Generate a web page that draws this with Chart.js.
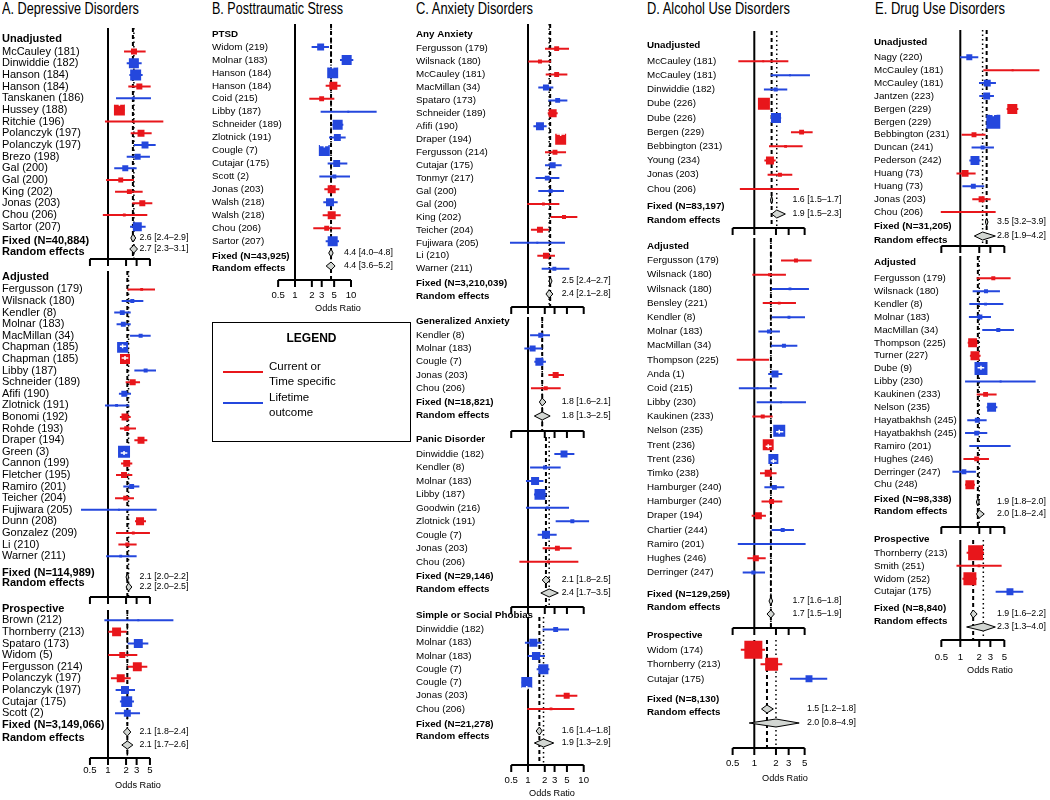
<!DOCTYPE html>
<html>
<head>
<meta charset="utf-8">
<title>Childhood maltreatment forest plots</title>
<script src="https://cdn.jsdelivr.net/npm/chart.js@4.4.1/dist/chart.umd.min.js"></script>
<style>
  body { margin: 0; width: 1050px; height: 800px; position: relative; overflow: hidden; background: #fff;
         font-family: "Liberation Sans", Arial, Helvetica, sans-serif; color: #000; }
  canvas { position: absolute; top: 0; }
  .title { position: absolute; top: 1px; font-size: 16px; line-height: 16px; white-space: nowrap; transform-origin: 0 0; }
  #legend { position: absolute; left: 212px; top: 322px; width: 197px; height: 118px; border: 1px solid #000; }
  #legend div { position: absolute; white-space: nowrap; }
  .lg-title { left: 0; width: 197px; top: 8px; text-align: center; font-weight: bold; font-size: 12px; line-height: 14px; }
  .lg-line { left: 10px; width: 40px; height: 2px; }
  .lg-text { left: 56px; font-size: 11.5px; line-height: 15px; }
</style>
</head>
<body>
<div class="title" style="left:2px" data-w="137">A. Depressive Disorders</div>
<div class="title" style="left:212px" data-w="131">B. Posttraumatic Stress</div>
<div class="title" style="left:416px" data-w="117">C. Anxiety Disorders</div>
<div class="title" style="left:647px" data-w="143">D. Alcohol Use Disorders</div>
<div class="title" style="left:875px" data-w="130">E. Drug Use Disorders</div>

<canvas id="panelA"></canvas>
<canvas id="panelB"></canvas>
<canvas id="panelC"></canvas>
<canvas id="panelD"></canvas>
<canvas id="panelE"></canvas>

<div id="legend">
  <div class="lg-title">LEGEND</div>
  <div class="lg-line" style="top:48px;background:#e8161b"></div>
  <div class="lg-text" style="top:36px">Current or<br>Time specific</div>
  <div class="lg-line" style="top:79px;background:#2447dd"></div>
  <div class="lg-text" style="top:67px">Lifetime<br>outcome</div>
</div>

<script>
// outcome type per study: C = current or time specific, L = lifetime outcome
// wt = relative study weight (box area)

// ---- A. Depressive disorders ----
const depUnadjStudy = ['McCauley (181)', 'Dinwiddie (182)', 'Hanson (184)', 'Hanson (184)', 'Tanskanen (186)', 'Hussey (188)',
  'Ritchie (196)', 'Polanczyk (197)', 'Polanczyk (197)', 'Brezo (198)', 'Gal (200)', 'Gal (200)', 'King (202)', 'Jonas (203)',
  'Chou (206)', 'Sartor (207)'];
const depUnadjOR = [2.71, 2.70, 2.89, 3.33, 2.64, 1.55, 2.70, 3.55, 4.14, 3.12, 1.94, 1.63, 2.27, 3.73, 1.87, 3.08];
const depUnadjLo = [1.85, 2.05, 2.27, 2.18, 1.36, 1.27, 0.89, 2.39, 2.71, 2.05, 1.27, 0.93, 1.31, 2.54, 0.82, 2.33];
const depUnadjHi = [4.24, 3.64, 3.78, 5.14, 5.20, 1.87, 8.36, 5.34, 6.23, 5.00, 3.00, 2.71, 3.78, 5.48, 4.52, 4.24];
const depUnadjWt = [9, 25, 30, 9, 2, 30, 1, 12, 12, 9, 9, 6, 6, 9, 2, 20];
const depUnadjType = 'CLLCLCCCLLLCCCCL';
const depUnadjFixed = [2.6, 2.4, 2.9];
const depUnadjRandom = [2.7, 2.3, 3.1];
const depUnadjN = '40,884';
const depUnadjPrinted = ['2.6 [2.4–2.9]', '2.7 [2.3–3.1]'];

const depAdjStudy = ['Fergusson (179)', 'Wilsnack (180)', 'Kendler (8)', 'Molnar (183)', 'MacMillan (34)', 'Chapman (185)',
  'Chapman (185)', 'Libby (187)', 'Schneider (189)', 'Afifi (190)', 'Zlotnick (191)', 'Bonomi (192)', 'Rohde (193)',
  'Draper (194)', 'Green (3)', 'Cannon (199)', 'Fletcher (195)', 'Ramiro (201)', 'Teicher (204)', 'Fujiwara (205)',
  'Dunn (208)', 'Gonzalez (209)', 'Li (210)', 'Warner (211)'];
const depAdjOR = [3.64, 2.54, 1.73, 1.80, 3.50, 1.75, 1.92, 4.24, 2.58, 1.87, 1.39, 1.92, 2.05, 3.55, 1.85, 2.05, 1.85, 2.48,
  1.97, 1.52, 3.42, 2.64, 2.10, 1.63];
const depAdjLo = [2.10, 1.69, 1.27, 1.39, 2.33, 1.58, 1.69, 2.75, 1.97, 1.52, 0.89, 1.58, 1.58, 2.75, 1.63, 1.65, 1.36, 1.80,
  1.31, 0.355, 2.82, 1.36, 1.49, 0.93];
const depAdjHi = [6.07, 3.88, 2.39, 2.39, 5.14, 2.00, 2.18, 6.31, 3.42, 2.42, 2.27, 2.39, 2.93, 4.52, 2.10, 2.54, 2.54, 3.33,
  2.71, 6.47, 4.30, 5.00, 3.00, 3.00];
const depAdjWt = [2, 4, 6, 6, 4, 30, 25, 4, 9, 9, 2, 12, 6, 12, 36, 12, 9, 6, 6, 1, 16, 2, 4, 2];
const depAdjType = 'CLLLLLCLCLLCCCLCCLCLCCCL';
const depAdjFixed = [2.1, 2.0, 2.2];
const depAdjRandom = [2.2, 2.0, 2.5];
const depAdjN = '114,989';
const depAdjPrinted = ['2.1 [2.0–2.2]', '2.2 [2.0–2.5]'];

const depProStudy = ['Brown (212)', 'Thornberry (213)', 'Spataro (173)', 'Widom (5)', 'Fergusson (214)', 'Polanczyk (197)',
  'Polanczyk (197)', 'Cutajar (175)', 'Scott (2)'];
const depProOR = [3.20, 1.39, 3.20, 1.73, 3.08, 1.63, 1.92, 2.05, 2.10];
const depProLo = [0.87, 1.01, 2.13, 1.01, 2.13, 1.12, 1.34, 1.58, 1.31];
const depProHi = [12.3, 2.05, 4.70, 3.08, 4.52, 2.39, 2.82, 2.71, 3.42];
const depProWt = [1, 20, 20, 9, 20, 16, 16, 30, 12];
const depProType = 'LCLCCCLLL';
const depProFixed = [2.1, 1.8, 2.4];
const depProRandom = [2.1, 1.7, 2.6];
const depProN = '3,149,066';
const depProPrinted = ['2.1 [1.8–2.4]', '2.1 [1.7–2.6]'];

// ---- B. Posttraumatic stress ----
const ptsdStudy = ['Widom (219)', 'Molnar (183)', 'Hanson (184)', 'Hanson (184)', 'Coid (215)', 'Libby (187)',
  'Schneider (189)', 'Zlotnick (191)', 'Cougle (7)', 'Cutajar (175)', 'Scott (2)', 'Jonas (203)', 'Walsh (218)',
  'Walsh (218)', 'Chou (206)', 'Sartor (207)'];
const ptsdOR = [2.87, 8.37, 4.71, 4.84, 2.99, 8.96, 5.78, 5.70, 3.34, 5.55, 5.04, 4.52, 4.22, 4.52, 3.68, 4.71];
const ptsdLo = [1.98, 6.36, 4.05, 3.53, 1.80, 2.87, 4.64, 4.05, 2.79, 3.83, 2.72, 3.34, 3.20, 3.12, 2.12, 3.53];
const ptsdHi = [4.05, 11.0, 5.55, 6.54, 5.04, 28.7, 7.30, 8.03, 3.94, 8.60, 9.60, 6.19, 5.78, 6.54, 6.54, 6.10];
const ptsdWt = [12, 25, 30, 16, 6, 1, 25, 12, 30, 12, 4, 16, 16, 16, 6, 25];
const ptsdType = 'LLLCCLLLLLLCLCCL';
const ptsdFixed = [4.4, 4.0, 4.8];
const ptsdRandom = [4.4, 3.6, 5.2];
const ptsdN = '43,925';
const ptsdPrinted = ['4.4 [4.0–4.8]', '4.4 [3.6–5.2]'];

// ---- C. Anxiety disorders ----
const anyStudy = ['Fergusson (179)', 'Wilsnack (180)', 'McCauley (181)', 'MacMillan (34)', 'Spataro (173)', 'Schneider (189)',
  'Afifi (190)', 'Draper (194)', 'Fergusson (214)', 'Cutajar (175)', 'Tonmyr (217)', 'Gal (200)', 'Gal (200)', 'King (202)',
  'Teicher (204)', 'Fujiwara (205)', 'Li (210)', 'Warner (211)'];
const anyOR = [3.27, 1.64, 3.27, 2.10, 3.41, 2.77, 1.64, 3.86, 3.05, 2.77, 2.22, 2.55, 1.89, 4.43, 1.64, 1.47, 2.10, 2.97];
const anyLo = [2.02, 1.01, 2.08, 1.53, 2.32, 2.26, 1.25, 3.27, 2.02, 2.02, 1.37, 1.53, 0.97, 2.55, 1.13, 0.475, 1.47, 1.76];
const anyHi = [5.45, 2.59, 5.09, 2.85, 5.09, 3.41, 2.16, 4.62, 4.82, 4.02, 3.66, 4.43, 3.66, 7.69, 2.38, 4.62, 3.05, 5.53];
const anyWt = [6, 4, 6, 9, 6, 16, 16, 30, 6, 9, 6, 4, 2, 4, 9, 1, 9, 4];
const anyType = 'CCCLLCLCCLLLCCCLCL';
const anyFixed = [2.5, 2.4, 2.7];
const anyRandom = [2.4, 2.1, 2.8];
const anyN = '3,210,039';
const anyPrinted = ['2.5 [2.4–2.7]', '2.4 [2.1–2.8]'];

const gadStudy = ['Kendler (8)', 'Molnar (183)', 'Cougle (7)', 'Jonas (203)', 'Chou (206)'];
const gadOR = [1.69, 1.21, 1.60, 3.14, 2.08];
const gadLo = [1.09, 0.86, 1.30, 2.32, 1.13];
const gadHi = [2.48, 1.81, 2.10, 4.43, 3.86];
const gadWt = [6, 9, 16, 9, 4];
const gadType = 'LLLCC';
const gadFixed = [1.8, 1.6, 2.1];
const gadRandom = [1.8, 1.3, 2.5];
const gadN = '18,821';
const gadPrinted = ['1.8 [1.6–2.1]', '1.8 [1.3–2.5]'];

const panicStudy = ['Dinwiddie (182)', 'Kendler (8)', 'Molnar (183)', 'Libby (187)', 'Goodwin (216)', 'Zlotnick (191)',
  'Cougle (7)', 'Jonas (203)', 'Chou (206)'];
const panicOR = [4.43, 2.02, 1.34, 1.64, 2.22, 6.25, 2.10, 3.37, 2.32];
const panicLo = [2.97, 1.09, 0.92, 1.28, 0.92, 3.14, 1.49, 1.83, 0.70];
const panicHi = [6.80, 3.86, 1.89, 2.16, 5.45, 12.5, 3.27, 6.08, 8.02];
const panicWt = [12, 4, 16, 30, 2, 4, 16, 6, 2];
const panicType = 'LLLLLLLCC';
const panicFixed = [2.1, 1.8, 2.5];
const panicRandom = [2.4, 1.7, 3.5];
const panicN = '29,146';
const panicPrinted = ['2.1 [1.8–2.5]', '2.4 [1.7–3.5]'];

const phobStudy = ['Dinwiddie (182)', 'Molnar (183)', 'Molnar (183)', 'Cougle (7)', 'Cougle (7)', 'Jonas (203)', 'Chou (206)'];
const phobOR = [3.14, 1.25, 1.39, 1.89, 0.95, 4.95, 2.59];
const phobLo = [1.83, 0.88, 0.99, 1.43, 0.77, 3.14, 0.97];
const phobHi = [5.45, 1.76, 2.02, 2.42, 1.16, 7.69, 6.80];
const phobWt = [6, 16, 16, 25, 30, 9, 2];
const phobType = 'LLLLLCC';
const phobFixed = [1.6, 1.4, 1.8];
const phobRandom = [1.9, 1.3, 2.9];
const phobN = '21,278';
const phobPrinted = ['1.6 [1.4–1.8]', '1.9 [1.3–2.9]'];

// ---- D. Alcohol use disorders ----
const alcUnadjStudy = ['McCauley (181)', 'McCauley (181)', 'Dinwiddie (182)', 'Dube (226)', 'Dube (226)', 'Bergen (229)',
  'Bebbington (231)', 'Young (234)', 'Jonas (203)', 'Chou (206)'];
const alcUnadjOR = [1.33, 3.13, 1.98, 1.36, 2.00, 4.54, 2.72, 1.65, 2.27, 1.62];
const alcUnadjLo = [0.60, 1.69, 1.36, 1.22, 1.70, 3.23, 1.60, 1.38, 1.53, 0.63];
const alcUnadjHi = [2.97, 5.93, 2.87, 1.53, 2.36, 6.46, 4.69, 1.98, 3.37, 4.17];
const alcUnadjWt = [1, 1, 4, 36, 25, 6, 2, 16, 4, 1];
const alcUnadjType = 'CLLCLCCCCC';
const alcUnadjFixed = [1.74, 1.68, 1.80];
const alcUnadjRandom = [2.05, 1.74, 2.70];
const alcUnadjN = '83,197';
const alcUnadjPrinted = ['1.6 [1.5–1.7]', '1.9 [1.5–2.3]'];

const alcAdjStudy = ['Fergusson (179)', 'Wilsnack (180)', 'Wilsnack (180)', 'Bensley (221)', 'Kendler (8)', 'Molnar (183)',
  'MacMillan (34)', 'Thompson (225)', 'Anda (1)', 'Coid (215)', 'Libby (230)', 'Kaukinen (233)', 'Nelson (235)',
  'Trent (236)', 'Trent (236)', 'Timko (238)', 'Hamburger (240)', 'Hamburger (240)', 'Draper (194)', 'Chartier (244)',
  'Ramiro (201)', 'Hughes (246)', 'Derringer (247)'];
const alcAdjOR = [3.79, 1.62, 3.13, 2.22, 3.03, 1.60, 2.58, 0.97, 1.94, 1.11, 2.35, 1.31, 2.22, 1.56, 1.84, 1.56, 1.90, 1.74,
  1.14, 2.48, 1.74, 1.05, 0.97];
const alcAdjLo = [2.35, 0.94, 1.74, 1.31, 1.74, 1.14, 1.70, 0.57, 1.56, 0.61, 1.08, 0.94, 2.00, 1.44, 1.69, 1.20, 1.38, 1.26,
  0.92, 1.74, 0.59, 0.80, 0.69];
const alcAdjHi = [6.25, 2.75, 5.74, 3.79, 5.06, 2.27, 3.96, 1.60, 2.45, 2.04, 5.22, 1.80, 2.53, 1.74, 2.04, 2.04, 2.61, 2.45,
  1.45, 3.56, 5.16, 1.44, 1.41];
const alcAdjWt = [4, 2, 2, 2, 2, 4, 4, 2, 12, 1, 1, 4, 36, 30, 25, 12, 6, 6, 12, 4, 1, 9, 4];
const alcAdjType = 'CCLCLLLCLLLCLCLCLCCLLCL';
const alcAdjFixed = [1.7, 1.6, 1.8];
const alcAdjRandom = [1.7, 1.5, 1.9];
const alcAdjN = '129,259';
const alcAdjPrinted = ['1.7 [1.6–1.8]', '1.7 [1.5–1.9]'];

const alcProStudy = ['Widom (174)', 'Thornberry (213)', 'Cutajar (175)'];
const alcProOR = [0.97, 1.74, 5.75];
const alcProLo = [0.65, 1.22, 3.13];
const alcProHi = [1.41, 2.45, 10.3];
const alcProWt = [81, 42, 12];
const alcProType = 'CCL';
const alcProFixed = [1.5, 1.26, 1.84];
const alcProRandom = [2.0, 0.85, 4.2];
const alcProN = '8,130';
const alcProPrinted = ['1.5 [1.2–1.8]', '2.0 [0.8–4.9]'];

// ---- E. Drug use disorders ----
const drugUnadjStudy = ['Nagy (220)', 'McCauley (181)', 'McCauley (181)', 'Jantzen (223)', 'Bergen (229)', 'Bergen (229)',
  'Bebbington (231)', 'Duncan (241)', 'Pederson (242)', 'Huang (73)', 'Huang (73)', 'Jonas (203)', 'Chou (206)'];
const drugUnadjOR = [1.39, 6.77, 2.68, 2.62, 6.69, 3.34, 1.65, 2.26, 1.71, 1.19, 1.61, 2.18, 1.34];
const drugUnadjLo = [0.99, 2.32, 1.98, 2.00, 5.44, 2.96, 1.05, 1.51, 1.39, 0.87, 1.08, 1.55, 0.49];
const drugUnadjHi = [1.93, 20.3, 3.68, 3.42, 8.33, 3.77, 2.52, 3.42, 2.10, 1.75, 2.40, 3.03, 3.64];
const drugUnadjWt = [9, 1, 12, 12, 25, 49, 6, 4, 20, 12, 6, 9, 1];
const drugUnadjType = 'LCLLCLCLLCLCC';
const drugUnadjFixed = [2.62, 2.50, 2.75];
const drugUnadjRandom = [2.26, 1.67, 3.60];
const drugUnadjN = '31,205';
const drugUnadjPrinted = ['3.5 [3.2–3.9]', '2.8 [1.9–4.2]'];

const drugAdjStudy = ['Fergusson (179)', 'Wilsnack (180)', 'Kendler (8)', 'Molnar (183)', 'MacMillan (34)', 'Thompson (225)',
  'Turner (227)', 'Dube (9)', 'Libby (230)', 'Kaukinen (233)', 'Nelson (235)', 'Hayatbakhsh (245)', 'Hayatbakhsh (245)',
  'Ramiro (201)', 'Hughes (246)', 'Derringer (247)', 'Chu (248)'];
const drugAdjOR = [3.34, 2.56, 2.52, 2.05, 4.01, 1.57, 1.71, 2.13, 4.37, 2.52, 3.14, 1.86, 1.82, 3.03, 1.82, 1.14, 1.42];
const drugAdjLo = [1.82, 1.57, 1.39, 1.37, 2.23, 1.31, 1.42, 1.88, 1.19, 1.82, 2.62, 1.29, 1.19, 1.39, 1.12, 0.75, 1.19];
const drugAdjHi = [6.29, 4.26, 4.82, 3.07, 7.11, 1.88, 2.10, 2.40, 15.7, 3.77, 3.87, 2.62, 2.68, 6.29, 2.85, 1.77, 1.71];
const drugAdjWt = [4, 4, 2, 6, 4, 20, 20, 42, 1, 6, 20, 6, 6, 1, 6, 6, 20];
const drugAdjType = 'CLLLLCCLLCLLLLCLC';
const drugAdjFixed = [1.9, 1.8, 2.0];
const drugAdjRandom = [2.0, 1.8, 2.4];
const drugAdjN = '98,338';
const drugAdjPrinted = ['1.9 [1.8–2.0]', '2.0 [1.8–2.4]'];

const drugProStudy = ['Thornberry (213)', 'Smith (251)', 'Widom (252)', 'Cutajar (175)'];
const drugProOR = [1.75, 1.98, 1.42, 6.14];
const drugProLo = [1.26, 0.87, 1.08, 3.64];
const drugProHi = [2.38, 4.53, 1.82, 10.0];
const drugProWt = [56, 2, 42, 12];
const drugProType = 'CCCL';
const drugProFixed = [1.6, 1.45, 1.85];
const drugProRandom = [2.32, 1.26, 3.6];
const drugProN = '8,840';
const drugProPrinted = ['1.9 [1.6–2.2]', '2.3 [1.3–4.0]'];

const ticksShort = [0.5, 1, 2, 3, 5];
const ticksLong = [0.5, 1, 2, 3, 5, 10];

// ------------------------------------------------------------------
const RED = '#e8161b';
const BLUE = '#2447dd';
const FAMILY = '"Liberation Sans", Arial, Helvetica, sans-serif';
Chart.defaults.font.family = FAMILY;
Chart.defaults.color = '#000';

function sec(name, study, or, lo, hi, wt, type, fixed, random, n, printed) {
  return {name, study, or, lo, hi, wt, type: type.split(''), fixed, random, n, printed};
}
function boxSide(w) { return Math.max(2, 2.0 * Math.sqrt(w)); }

function makeForest(lay, sections) {
  return {
    id: 'forest',
    beforeDatasetsDraw(chart) {
      const ctx = chart.ctx, x = chart.scales.x;
      ctx.save();
      ctx.strokeStyle = '#000';
      sections.forEach((s, k) => {
        const L = lay.sec[k];
        const top = L.header - 3, bot = L.axis;
        [[1, [], 2], [s.fixed[0], [4, 3], 2], [s.random[0], [1.5, 3], 1.5]].forEach(([v, dash, w]) => {
          const px = x.getPixelForValue(v);
          ctx.setLineDash(dash);
          ctx.lineWidth = w;
          ctx.beginPath(); ctx.moveTo(px, top); ctx.lineTo(px, bot); ctx.stroke();
        });
      });
      ctx.restore();
    },
    afterDatasetsDraw(chart) {
      const ctx = chart.ctx, x = chart.scales.x;
      const px = v => x.getPixelForValue(v);
      ctx.save();
      ctx.setLineDash([]);
      sections.forEach((s, k) => {
        const L = lay.sec[k];
        // CI lying inside its box is drawn in white
        s.or.forEach((v, i) => {
          const y = L.first + i * L.rowH, half = boxSide(s.wt[i]) / 2, c = px(v);
          const a = px(s.lo[i]), b = px(s.hi[i]);
          if (a > c - half && b < c + half) {
            ctx.strokeStyle = '#fff'; ctx.lineWidth = 1.5;
            ctx.beginPath();
            ctx.moveTo(a, y); ctx.lineTo(b, y);
            ctx.moveTo(c, y - 2); ctx.lineTo(c, y + 2);
            ctx.stroke();
          }
        });
        // summary diamonds
        [[s.fixed, L.fixed], [s.random, L.random]].forEach(([d, y]) => {
          ctx.beginPath();
          ctx.moveTo(px(d[1]), y); ctx.lineTo(px(d[0]), y - 4);
          ctx.lineTo(px(d[2]), y); ctx.lineTo(px(d[0]), y + 4);
          ctx.closePath();
          ctx.fillStyle = '#d2d6d2'; ctx.fill();
          ctx.lineWidth = 1; ctx.strokeStyle = '#000'; ctx.stroke();
        });
        // printed summary estimates
        ctx.fillStyle = '#000';
        ctx.font = '8.8px ' + FAMILY;
        ctx.textAlign = 'left'; ctx.textBaseline = 'middle';
        const tx = L.textX !== undefined ? L.textX : lay.textX;
        ctx.fillText(s.printed[0], tx, L.fixed);
        ctx.fillText(s.printed[1], tx, L.random);
        // axis under each block
        const y0 = L.axis, t = lay.ticks;
        ctx.strokeStyle = '#000'; ctx.lineWidth = 2;
        ctx.beginPath();
        ctx.moveTo(px(t[0]), y0); ctx.lineTo(px(t[t.length - 1]), y0);
        t.forEach(v => { ctx.moveTo(px(v), y0); ctx.lineTo(px(v), y0 + 7); });
        ctx.stroke();
        if (k === sections.length - 1) {
          ctx.textAlign = 'center';
          ctx.font = '9.6px ' + FAMILY;
          t.forEach(v => ctx.fillText(String(v), px(v), lay.tickY));
          ctx.font = '9.2px ' + FAMILY;
          ctx.fillText('Odds Ratio', lay.xlabX, lay.xlabY);
        }
      });
      ctx.restore();
    }
  };
}

function buildPanel(id, lay, sections) {
  const rows = [];
  const ci = {C: [], L: []}, box = {C: [], L: []}, boxR = {C: [], L: []};
  sections.forEach((s, k) => {
    const L = lay.sec[k];
    rows.push({y: L.header, label: s.name, bold: true});
    s.study.forEach((lab, i) => {
      const y = L.first + i * L.rowH, t = s.type[i];
      rows.push({y, label: lab, bold: false});
      ci[t].push({x: [s.lo[i], s.hi[i]], y});
      box[t].push({x: s.or[i], y});
      boxR[t].push(boxSide(s.wt[i]) / Math.SQRT2);
    });
    rows.push({y: L.fixed, label: 'Fixed (N=' + s.n + ')', bold: true});
    rows.push({y: L.random, label: 'Random effects', bold: true});
  });

  const canvas = document.getElementById(id);
  canvas.width = lay.width; canvas.height = 800;
  canvas.style.left = lay.left + 'px';
  canvas.style.width = lay.width + 'px'; canvas.style.height = '800px';
  // log scale limits so that OR = 1 sits at lay.zero with lay.ppd pixels per decade
  const limits = (l, r) => [Math.pow(10, (l - lay.zero) / lay.ppd), Math.pow(10, (r - lay.zero) / lay.ppd)];
  const [xmin, xmax] = limits(0, lay.width);

  const boxes = (t, col) => ({type: 'scatter', data: box[t], pointStyle: 'rect', pointRadius: boxR[t],
    pointBackgroundColor: col, pointBorderWidth: 0, order: 0});
  const lines = (t, col) => ({type: 'bar', indexAxis: 'y', data: ci[t], backgroundColor: col, borderWidth: 0,
    grouped: false, maxBarThickness: 2, inflateAmount: 0, order: 1});

  const chart = new Chart(canvas, {
    type: 'scatter',
    data: {datasets: [boxes('C', RED), boxes('L', BLUE), lines('C', RED), lines('L', BLUE)]},
    options: {
      responsive: false, animation: false, events: [],
      layout: {padding: 0},
      plugins: {legend: {display: false}, tooltip: {enabled: false}},
      scales: {
        x: {type: 'logarithmic', min: xmin, max: xmax, bounds: 'data', display: false},
        y: {
          type: 'linear', min: 0, max: 800, reverse: true, bounds: 'data', offset: false,
          grid: {display: false, drawTicks: false, tickLength: 0}, border: {display: false},
          afterBuildTicks: sc => { sc.ticks = rows.map(r => ({value: r.y})); },
          afterFit: sc => { sc.width = 0; sc.paddingTop = 0; sc.paddingBottom = 0; },
          ticks: {
            autoSkip: false, mirror: true, crossAlign: 'near', padding: 0, color: '#000',
            callback: (v, i) => rows[i] ? rows[i].label : '',
            font: c => ({family: FAMILY, size: lay.font,
              weight: rows[c.index] && rows[c.index].bold ? 'bold' : 'normal'})
          }
        }
      }
    },
    plugins: [makeForest(lay, sections)]
  });

  // pin the label column to the canvas edge and keep the log mapping on the real chart area
  const area = chart.chartArea;
  const [m0, m1] = limits(area.left, area.right);
  chart.options.scales.x.min = m0;
  chart.options.scales.x.max = m1;
  const first = chart.scales.y.getLabelItems(area)[0];
  const dx = first ? first.options.translation[0] : 0;
  chart.options.scales.y.ticks.padding = -dx;
  chart.update();
}

// ---- layout (pixels) ----
const layA = {left: 2, width: 203, zero: 106, ppd: 60, font: 11, textX: 137.5, ticks: ticksShort,
  tickY: 770, xlabX: 136, xlabY: 785, sec: [
    {header: 31, first: 44, rowH: 11.93, fixed: 238, random: 249, axis: 259},
    {header: 274, first: 287, rowH: 11.85, fixed: 577, random: 587, axis: 597},
    {header: 613, first: 625, rowH: 11.88, fixed: 732, random: 745, axis: 758}]};
const layB = {left: 212, width: 203, zero: 83, ppd: 56, font: 9.8, textX: 132, ticks: ticksLong,
  tickY: 295, xlabX: 126, xlabY: 308, sec: [
    {header: 27, first: 40, rowH: 13.2, fixed: 253, random: 266, axis: 280}]};
const layC = {left: 416, width: 206, zero: 112, ppd: 55.7, font: 9.8, textX: 145.7, ticks: ticksLong,
  tickY: 780, xlabX: 136, xlabY: 793, sec: [
    {header: 27, first: 41.7, rowH: 13.2, fixed: 281, random: 294, axis: 307},
    {header: 320, first: 334, rowH: 13.5, fixed: 402, random: 416, axis: 431},
    {header: 440, first: 455, rowH: 13.75, fixed: 580, random: 593, axis: 607},
    {header: 620, first: 634, rowH: 13.5, fixed: 731, random: 743, axis: 765}]};
const layD = {left: 647, width: 223, zero: 107.3, ppd: 72, font: 9.8, textX: 145.5, ticks: ticksShort,
  tickY: 763, xlabX: 138, xlabY: 778, sec: [
    {header: 34, first: 50, rowH: 14.67, fixed: 200, random: 214, axis: 228},
    {header: 241, first: 256, rowH: 14.64, fixed: 601, random: 614, axis: 628},
    {header: 643, first: 658, rowH: 15, fixed: 709, random: 723, axis: 748, textX: 160}]};
const layE = {left: 874, width: 176, zero: 86.3, ppd: 63, font: 9.8, textX: 123, ticks: ticksShort,
  tickY: 657, xlabX: 116, xlabY: 670, sec: [
    {header: 33, first: 48, rowH: 13.25, fixed: 222, random: 236, axis: 246},
    {header: 259, first: 275, rowH: 13.25, fixed: 502, random: 514, axis: 527},
    {header: 543, first: 557, rowH: 13.33, fixed: 614, random: 627, axis: 640}]};

buildPanel('panelA', layA, [
  sec('Unadjusted', depUnadjStudy, depUnadjOR, depUnadjLo, depUnadjHi, depUnadjWt, depUnadjType, depUnadjFixed, depUnadjRandom, depUnadjN, depUnadjPrinted),
  sec('Adjusted', depAdjStudy, depAdjOR, depAdjLo, depAdjHi, depAdjWt, depAdjType, depAdjFixed, depAdjRandom, depAdjN, depAdjPrinted),
  sec('Prospective', depProStudy, depProOR, depProLo, depProHi, depProWt, depProType, depProFixed, depProRandom, depProN, depProPrinted)]);
buildPanel('panelB', layB, [
  sec('PTSD', ptsdStudy, ptsdOR, ptsdLo, ptsdHi, ptsdWt, ptsdType, ptsdFixed, ptsdRandom, ptsdN, ptsdPrinted)]);
buildPanel('panelC', layC, [
  sec('Any Anxiety', anyStudy, anyOR, anyLo, anyHi, anyWt, anyType, anyFixed, anyRandom, anyN, anyPrinted),
  sec('Generalized Anxiety', gadStudy, gadOR, gadLo, gadHi, gadWt, gadType, gadFixed, gadRandom, gadN, gadPrinted),
  sec('Panic Disorder', panicStudy, panicOR, panicLo, panicHi, panicWt, panicType, panicFixed, panicRandom, panicN, panicPrinted),
  sec('Simple or Social Phobias', phobStudy, phobOR, phobLo, phobHi, phobWt, phobType, phobFixed, phobRandom, phobN, phobPrinted)]);
buildPanel('panelD', layD, [
  sec('Unadjusted', alcUnadjStudy, alcUnadjOR, alcUnadjLo, alcUnadjHi, alcUnadjWt, alcUnadjType, alcUnadjFixed, alcUnadjRandom, alcUnadjN, alcUnadjPrinted),
  sec('Adjusted', alcAdjStudy, alcAdjOR, alcAdjLo, alcAdjHi, alcAdjWt, alcAdjType, alcAdjFixed, alcAdjRandom, alcAdjN, alcAdjPrinted),
  sec('Prospective', alcProStudy, alcProOR, alcProLo, alcProHi, alcProWt, alcProType, alcProFixed, alcProRandom, alcProN, alcProPrinted)]);
buildPanel('panelE', layE, [
  sec('Unadjusted', drugUnadjStudy, drugUnadjOR, drugUnadjLo, drugUnadjHi, drugUnadjWt, drugUnadjType, drugUnadjFixed, drugUnadjRandom, drugUnadjN, drugUnadjPrinted),
  sec('Adjusted', drugAdjStudy, drugAdjOR, drugAdjLo, drugAdjHi, drugAdjWt, drugAdjType, drugAdjFixed, drugAdjRandom, drugAdjN, drugAdjPrinted),
  sec('Prospective', drugProStudy, drugProOR, drugProLo, drugProHi, drugProWt, drugProType, drugProFixed, drugProRandom, drugProN, drugProPrinted)]);

// condensed panel titles
document.querySelectorAll('.title').forEach(el => {
  const target = +el.dataset.w;
  el.style.transform = 'scaleX(' + (target / el.getBoundingClientRect().width).toFixed(3) + ')';
});
</script>
</body>
</html>
